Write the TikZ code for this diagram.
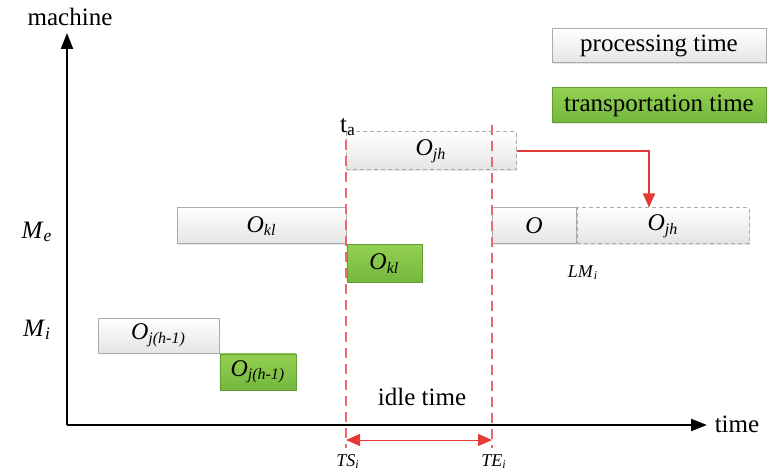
\documentclass[tikz,border=0pt]{standalone}
\usepackage{fontspec}
\setmainfont{Liberation Serif}
\usetikzlibrary{arrows.meta,positioning,shadows}
\definecolor{procgray}{HTML}{E4E4E4}
\definecolor{procedge}{HTML}{ABABAB}
\definecolor{translight}{HTML}{92D050}
\definecolor{transgreen}{HTML}{74B83F}
\definecolor{idlered}{HTML}{E53935}
\newcommand{\oplab}[2]{\textit{#1}\textsubscript{\textit{#2}}}

\begin{document}
\begin{tikzpicture}[x=0.5pt, y=-0.5pt,
    font=\fontsize{12.5}{15}\selectfont,
    proc/.style={draw=procedge, line width=0.5pt, top color=white, bottom color=procgray,
                 inner sep=0pt, font=\fontsize{12}{14}\selectfont,
                 drop shadow={shadow xshift=0.6pt, shadow yshift=-0.6pt, opacity=0.2}},
    plan/.style={proc, dashed, dash pattern=on 2pt off 1.5pt},
    trans/.style={draw=transgreen!85!black, line width=0.4pt, top color=translight, bottom color=transgreen,
                  inner sep=0pt, font=\fontsize{12}{14}\selectfont,
                  drop shadow={shadow xshift=0.6pt, shadow yshift=-0.6pt, opacity=0.2}},
    small/.style={font=\fontsize{9}{11}\selectfont},
    axis/.style={-{Triangle[length=8pt,width=6pt]}, line width=1.1pt},
    guide/.style={idlered!75, line width=0.6pt, dash pattern=on 5pt off 3pt},
    move/.style={-{Triangle[length=7pt,width=6pt]}, idlered, line width=0.8pt}
  ]
    \useasboundingbox (0,0) rectangle (769,475);

    % axes
    \coordinate (origin) at (67,425);
    \coordinate (ytop) at (67,33);
    \coordinate (xend) at (707,425);
    \draw[axis] (origin) -- (ytop);
    \draw[axis] (origin) -- (xend);
    \node (machine) at (70,17) {machine};
    \node (time) at (737,424) {time};
    \node (me) at (37,232) {\oplab{M}{e}};
    \node (mi) at (37,330) {\oplab{M}{i}};

    % legend
    \node[proc, minimum width=107pt, minimum height=17pt, font=\fontsize{12.5}{15}\selectfont]
      (legproc) at (659,46) {processing time};
    \node[trans, minimum width=107pt, minimum height=17.5pt, font=\fontsize{12.5}{15}\selectfont,
      below=12pt of legproc] (legtrans) {transportation time};

    % operations on M_i
    \node[proc, minimum width=60.5pt, minimum height=17.5pt] (ojp) at (158.5,335.5) {\oplab{O}{j(h-1)}};
    \node[trans, minimum width=38pt, minimum height=18pt, below right=0pt and 0pt of ojp] (ojt) {\oplab{O}{j(h-1)}};

    % operations on M_e
    \node[proc, minimum width=84.5pt, minimum height=18pt] (oklp) at (261.5,226) {\oplab{O}{kl}};
    \node[trans, minimum width=37.5pt, minimum height=18.5pt, below right=0pt and 0pt of oklp] (oklt) {\oplab{O}{kl}};
    \node[plan, minimum width=85pt, minimum height=19pt] (ojhtop) at (431,151) {\oplab{O}{jh}};
    \node[proc, minimum width=42pt, minimum height=18pt] (oright) at (534,226) {\textit{O}};
    \node[plan, minimum width=86pt, minimum height=18pt, right=0pt of oright] (ojhright) {\oplab{O}{jh}};
    \node[small] (lm) at (583,273) {\oplab{LM}{i}};

    % idle interval
    \coordinate (tstop) at (346,140);
    \coordinate (tsbot) at (346,448);
    \coordinate (tetop) at (492,125);
    \coordinate (tebot) at (492,448);
    \draw[guide] (tstop) -- (tsbot);
    \draw[guide] (tetop) -- (tebot);
    \node (ta) at (348,127) {t\textsubscript{a}};
    \coordinate (ts) at (346,440);
    \coordinate (te) at (492,440);
    \draw[idlered, line width=0.5pt, {Triangle[length=7pt,width=6pt]}-{Triangle[length=7pt,width=6pt]}] (ts) -- (te);
    \node (idle) at (422,397) {idle time};
    \node[small] (tslab) at (348,462) {\oplab{TS}{i}};
    \node[small] (telab) at (494,462) {\oplab{TE}{i}};

    % insertion move
    \draw[move] (ojhtop.east) -| ([xshift=-7pt]ojhright.north);
  \end{tikzpicture}
\end{document}
